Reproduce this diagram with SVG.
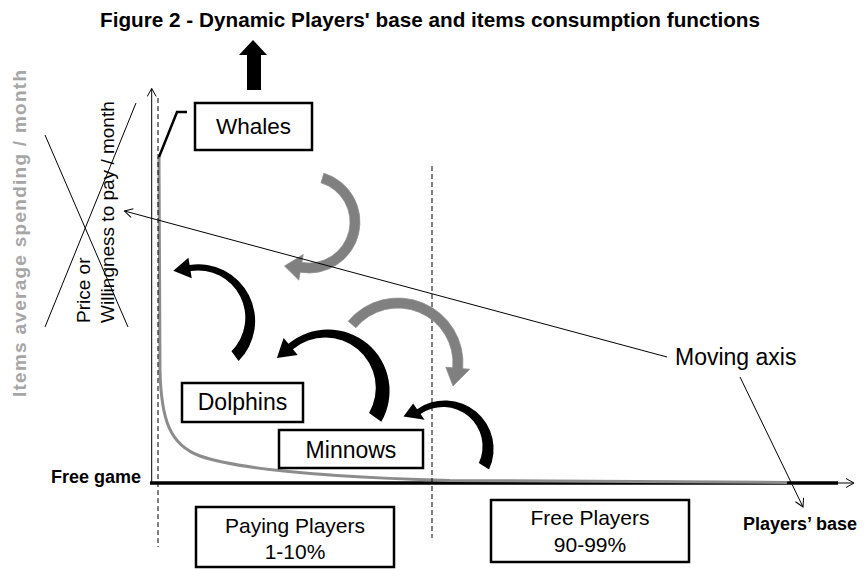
<svg xmlns="http://www.w3.org/2000/svg" width="866" height="569" viewBox="0 0 866 569">
<style>
  .t { font-family: "Liberation Sans", Arial, sans-serif; fill: #000; }
  .b { font-weight: bold; }
  .box { fill: #fff; stroke: #000; stroke-width: 2.5; }
  .thin { fill: none; stroke: #000; stroke-width: 1; }
  .dash { fill: none; stroke: #000; stroke-width: 1; stroke-dasharray: 5 3; }
  .ga { fill: #808080; stroke: #8e8e8e; stroke-width: 0.8; }
  .ba { fill: #000; }
</style>
<defs>
  <marker id="open" markerWidth="12" markerHeight="12" refX="9" refY="5" orient="auto" markerUnits="userSpaceOnUse">
    <path d="M1,0.5 L9,5 L1,9.5" fill="none" stroke="#000" stroke-width="1"/>
  </marker>
</defs>
<rect width="866" height="569" fill="#fff"/>

<g id="title">
  <text class="t b" x="100" y="27" font-size="20.5" textLength="660" lengthAdjust="spacingAndGlyphs">Figure 2 - Dynamic Players' base and items consumption functions</text>
</g>

<g id="axis-labels">
  <text class="t b" font-size="19" style="fill:#a6a6a6" transform="translate(25.5,397) rotate(-90)" textLength="327" lengthAdjust="spacing">Items average spending / month</text>
  <text class="t" font-size="19" transform="translate(90,323) rotate(-90)">Price or</text>
  <text class="t" font-size="19" transform="translate(114,323) rotate(-90)">Willingness to pay / month</text>
  <text class="t b" font-size="18" x="141" y="483" text-anchor="end">Free game</text>
  <text class="t b" font-size="18" x="743" y="530">Players’ base</text>
  <text class="t" font-size="23" x="675" y="365">Moving axis</text>
</g>

<g id="axes">
  <line class="thin" x1="151.7" y1="483" x2="151.7" y2="88.5" marker-end="url(#open)"/>
  <line class="thin" x1="151" y1="483" x2="854" y2="483" marker-end="url(#open)"/>
  <line x1="150" y1="483" x2="838" y2="483" stroke="#000" stroke-width="3.5"/>
  <path d="M159,157 L160,370 C161,420 170,445 200,456 C240,470 330,477 450,480.5 L787,482.5" fill="none" stroke="#8c8c8c" stroke-width="3"/>
  <line class="dash" x1="158" y1="98" x2="158" y2="547"/>
  <line class="dash" x1="432" y1="166" x2="432" y2="538"/>
</g>

<g id="cross">
  <line class="thin" x1="45" y1="135" x2="128" y2="327"/>
  <line class="thin" x1="45" y1="327" x2="136" y2="103"/>
</g>

<g id="up-arrow">
  <path class="ba" d="M253,40 L267,55 L261,55 L261,90 L247,90 L247,55 L239,55 Z"/>
</g>

<g id="whales">
  <polyline points="159,157 177,112 187,112" fill="none" stroke="#000" stroke-width="2.5"/>
  <rect class="box" x="195" y="103" width="117" height="47"/>
  <text class="t" font-size="22.5" x="253.5" y="134" text-anchor="middle">Whales</text>
</g>

<g id="dolphins">
  <rect class="box" x="182" y="383" width="121" height="39"/>
  <text class="t" font-size="23" x="242.5" y="410" text-anchor="middle">Dolphins</text>
</g>

<g id="minnows">
  <rect class="box" x="279" y="430" width="144" height="38"/>
  <text class="t" font-size="23" x="351" y="457.5" text-anchor="middle">Minnows</text>
</g>

<g id="paying">
  <rect class="box" x="196" y="507" width="198" height="60"/>
  <text class="t" font-size="21" x="295" y="533" text-anchor="middle">Paying Players</text>
  <text class="t" font-size="21" x="295" y="559" text-anchor="middle">1-10%</text>
</g>

<g id="free">
  <rect class="box" x="491" y="500" width="198" height="62"/>
  <text class="t" font-size="21" x="590" y="525" text-anchor="middle">Free Players</text>
  <text class="t" font-size="21" x="590" y="552" text-anchor="middle">90-99%</text>
</g>

<g id="connectors">
  <path class="ga" d="M323.91,173.23 A51,51 0 0 1 300.15,272.22 L298.74,280.1 L284.5,266 L303.26,254.5 L301.88,262.38 A41,41 0 0 0 320.99,182.79 Z"/>
  <path class="ga" d="M348.21,321.22 A65,65 0 0 1 462.75,368.67 L469.72,369.28 L453,386 L445.82,367.18 L452.79,367.8 A55,55 0 0 0 355.87,327.65 Z"/>
  <path class="ba" d="M238.56,361.06 A56.66,56.66 0 0 0 189.64,265.04 L188.46,257.63 L173.3,270.66 L191.74,278.37 L190.58,270.96 A47.34,47.34 0 0 1 231.45,351.19 Z"/>
  <path class="ba" d="M381.31,421.78 A61.56,61.56 0 0 0 288.43,343.84 L283.61,338.09 L276.89,358.09 L297.75,354.95 L292.93,349.2 A50.44,50.44 0 0 1 369.03,413.06 Z"/>
  <path class="ba" d="M489.06,469.54 A48.61,48.61 0 0 0 417.12,409.18 L413.11,403.45 L403.5,416.5 L424.59,419.83 L420.57,414.1 A39.39,39.39 0 0 1 478.86,463.02 Z"/>
  <line class="thin" x1="667" y1="357" x2="124.5" y2="211" marker-end="url(#open)"/>
  <line class="thin" x1="740" y1="377" x2="803" y2="507" marker-end="url(#open)"/>
</g>
</svg>
